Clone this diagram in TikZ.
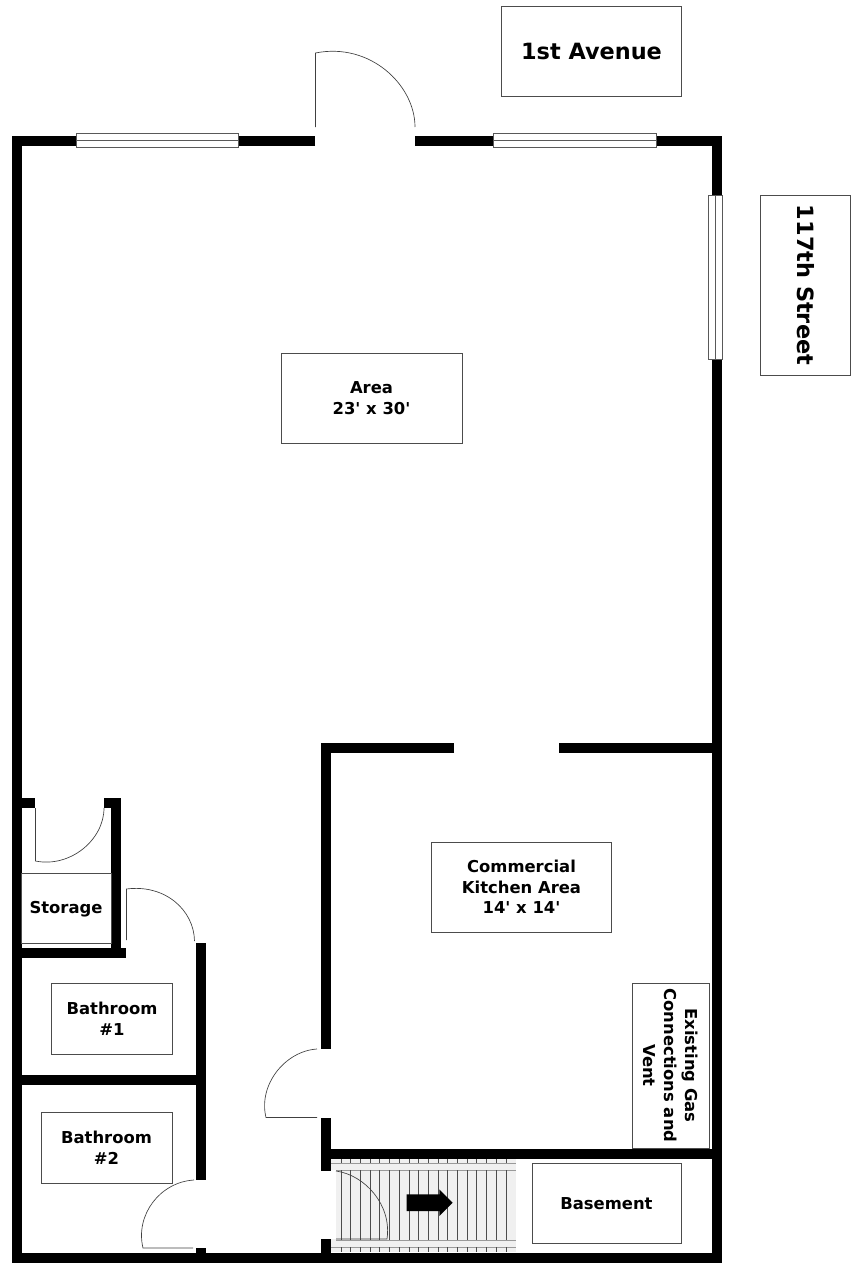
\documentclass[tikz,border=0pt]{standalone}
\usepackage{fontspec}
\setmainfont{DejaVu Sans}
\usepackage{tikz}

\tikzset{
  wall/.style={line width=7.5pt, line join=miter},
  thin door/.style={line width=0.5pt, black!75},
  windowpane/.style={draw=black!65, fill=white, line width=0.7pt},
  stairline/.style={black!70, line width=0.6pt},
  railline/.style={black!40, line width=0.7pt},
  roombox/.style 2 args={draw=black!70, line width=0.6pt, inner sep=0pt, align=center,
    minimum width=#1*0.75pt, minimum height=#2*0.75pt,
    font=\fontsize{12.3}{15.5}\selectfont\bfseries},
  streetbox/.style 2 args={roombox={#1}{#2},
    font=\fontsize{16.8}{20}\selectfont\bfseries}
}

\begin{document}
\begin{tikzpicture}[x=0.75pt, y=-0.75pt]
  \useasboundingbox (0,0) rectangle (856,1274);

  \fill[black!6] (331,1159) rectangle (516,1252);
  \fill[white] (331,1170) rectangle (336,1239);
  \draw[railline] (331,1163) -- (516,1163);
  \draw[railline] (336,1170) -- (516,1170);
  \draw[railline] (336,1240) -- (516,1240);
  \draw[railline] (331,1247) -- (516,1247);
  \foreach \treadx in {341,350.7,...,506} {
    \draw[stairline] (\treadx,1159) -- (\treadx,1163);
    \draw[stairline] (\treadx,1170) -- (\treadx,1240);
    \draw[stairline] (\treadx,1247) -- (\treadx,1252);
  }
  \fill (406.7,1194.3) -- (439.3,1194.3) -- (439.3,1189.3) -- (452.7,1202.7)
    -- (439.3,1216) -- (439.3,1211) -- (406.7,1211) -- cycle;

  \draw[wall] (315,140.5) -| (16.5,1258) -| (716.5,140.5) -- (415,140.5);
  \draw[wall] (454,748) -| (326,1049);
  \draw[wall] (559,748) -- (716.5,748);
  \draw[wall] (326,1118) -- (326,1171);
  \draw[wall] (326,1239) -- (326,1258);
  \draw[wall] (321,1153.5) -- (716.5,1153.5);
  \draw[wall] (21,803) -- (35,803);
  \draw[wall] (104,803) -| (116,953);
  \draw[wall] (21,953) -- (126,953);
  \draw[wall] (201,943) -- (201,1180);
  \draw[wall] (201,1248) -- (201,1258);
  \draw[wall] (21,1080) -- (201,1080);

  \draw[windowpane] (76.7,133.5) rectangle (238.5,147);
  \draw[black!65, line width=0.7pt] (76.7,140.2) -- (238.5,140.2);
  \draw[windowpane] (493.5,133.5) rectangle (656,147);
  \draw[black!65, line width=0.7pt] (493.5,140.2) -- (656,140.2);
  \draw[windowpane] (708.5,195) rectangle (722,359);
  \draw[black!65, line width=0.7pt] (715.3,195) -- (715.3,359);

  \draw[thin door] (315.5,127) -- (315.5,53) .. controls (370,42) and (415,85) .. (415,127);
  \draw[thin door] (35.5,808) -- (35.5,861) .. controls (70,868) and (104,840) .. (104,808);
  \draw[thin door] (126.5,940) -- (126.5,889) .. controls (165,884) and (194,910) .. (194.5,941);
  \draw[thin door] (194,1180) .. controls (160,1182) and (135,1215) .. (143,1248) -- (193,1248);
  \draw[thin door] (317,1049) .. controls (285,1051) and (258,1085) .. (266,1117.5) -- (317,1117.5);
  \draw[thin door] (336,1171) .. controls (365,1175) and (392,1205) .. (387,1239) -- (336,1239);

  \node[streetbox={180}{90}] (avenue) at (591.5,51) {1st Avenue};
  \node[streetbox={180}{90}, rotate=-90] (street) at (805.5,285) {117th Street};
  \node[roombox={181}{90}] (area) at (371.5,398) {Area\\23\textquotesingle{} x 30\textquotesingle};
  \node[roombox={180}{90}] (kitchen) at (521.5,887) {Commercial\\Kitchen Area\\14\textquotesingle{} x 14\textquotesingle};
  \node[roombox={165}{77}, rotate=-90] (gas) at (670.5,1065.5) {Existing Gas\\Connections and\\Vent};
  \node[roombox={90}{70}, text depth=0.4pt] (storage) at (66,908) {Storage};
  \node[roombox={121}{71}] (bathone) at (112,1018.5) {Bathroom\\\#1};
  \node[roombox={131}{71}] (bathtwo) at (106.5,1148) {Bathroom\\\#2};
  \node[roombox={149}{80}] (basement) at (606.5,1203.5) {Basement};
\end{tikzpicture}
\end{document}
